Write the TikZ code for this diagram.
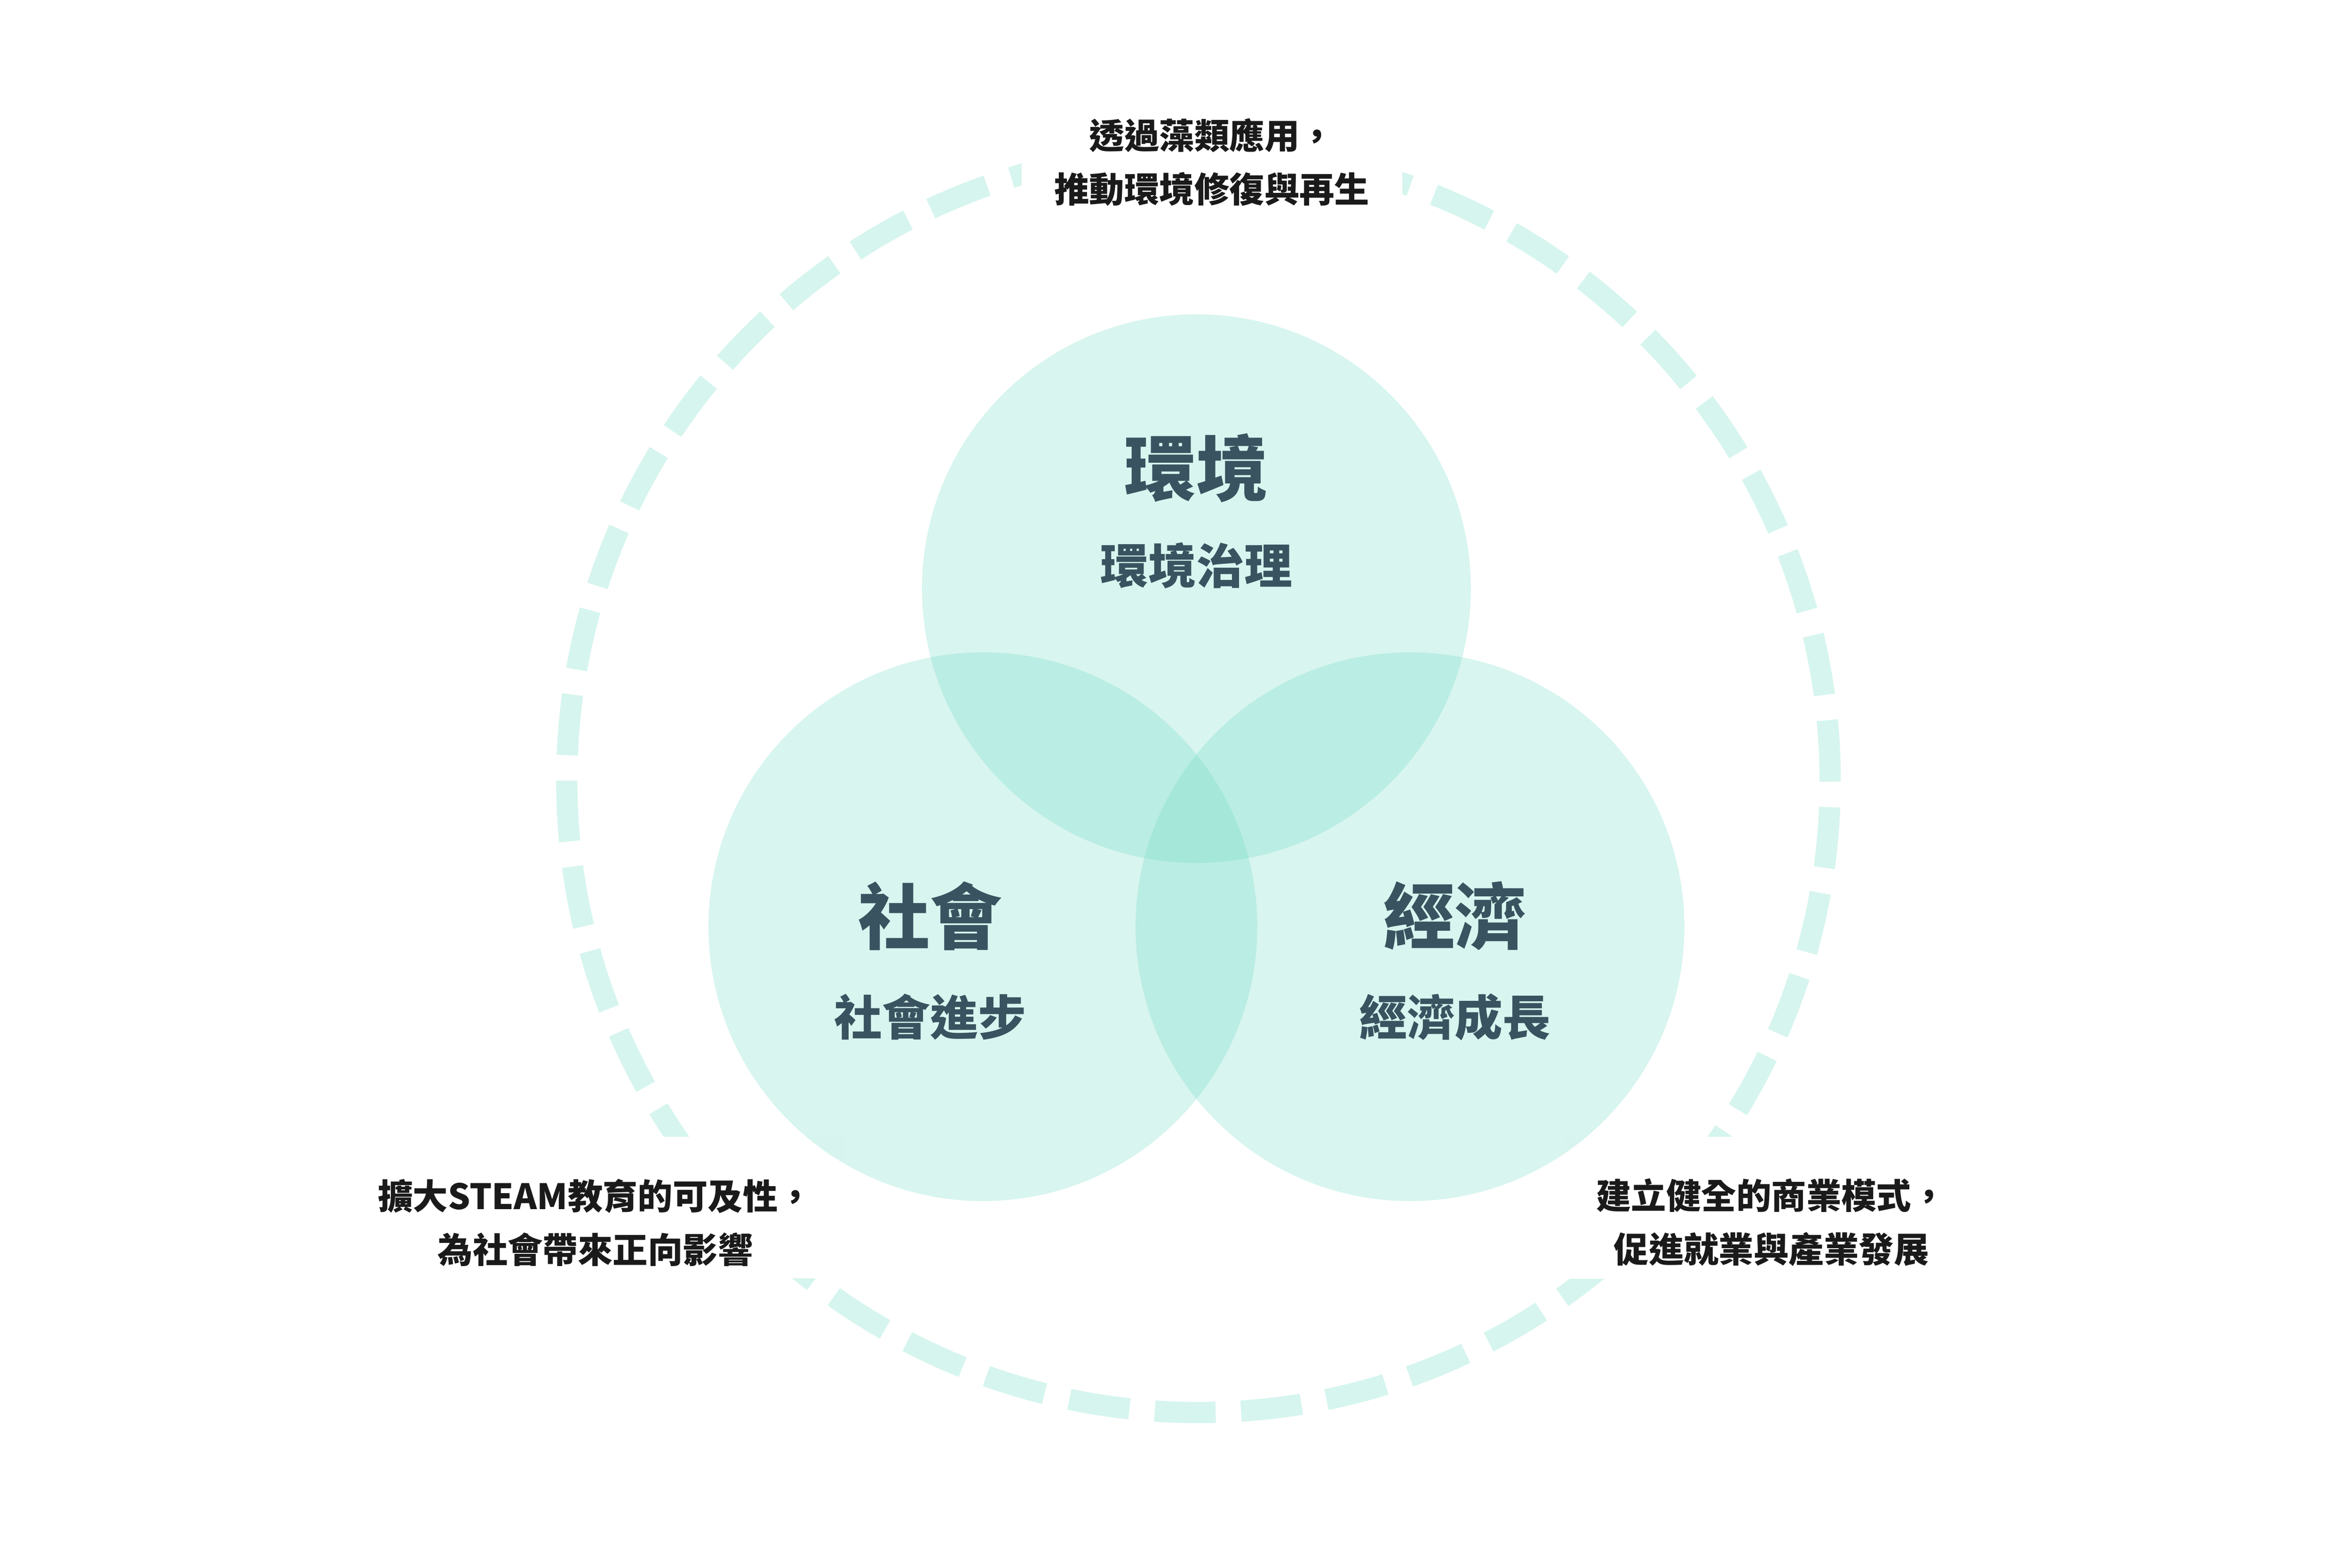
\documentclass[tikz,border=0pt]{standalone}
\usepackage{fontspec}
\setmainfont{Noto Sans CJK TC}
\usetikzlibrary{positioning}
\definecolor{mint}{RGB}{103,216,192}
\definecolor{ringmint}{RGB}{214,245,238}
\definecolor{slate}{RGB}{58,83,96}
\definecolor{ink}{RGB}{26,26,26}
\newcommand{\topgap}{\rule{0pt}{21pt}}

\begin{document}
\begin{tikzpicture}[node distance=4.14cm,
	bubble/.style={circle, fill=mint, fill opacity=0.26, minimum size=6.72cm, inner sep=0pt},
	ring/.style={circle, draw=ringmint, line width=7.4pt, dash pattern=on 0.745cm off 0.3115cm, minimum size=15.47cm, inner sep=0pt},
	head/.style={text=slate, font=\bfseries\fontsize{25}{30}\selectfont},
	subhead/.style={text=slate, font=\bfseries\fontsize{16.7}{20}\selectfont},
	note/.style={fill=white, text=ink, align=center, inner xsep=0.4cm, inner ysep=0.15cm, font=\bfseries\fontsize{12.2}{18.7}\selectfont}]
			\useasboundingbox (0,0) rectangle (28.8,19.2);

			\node[ring] (ring) at (14.675,9.635) {};

			\node[note] (envn) at (14.84,17.215) {透過藻類應用，\\推動環境修復與再生};
			\node[note] (socn) at (7.29,4.41) {\topgap 擴大STEAM教育的可及性，\\為社會帶來正向影響};
			\node[note] (econ) at (21.69,4.41) {\topgap 建立健全的商業模式，\\促進就業與產業發展};

			\node[bubble] (env) at (14.65,11.99) {};
			\node[bubble] (soc)[below of = env, xshift=-2.615cm] {};
			\node[bubble] (eco)[below of = env, xshift=2.615cm] {};

			\node[head] (envh)[above of = env, yshift=-2.66cm] {環境};
			\node[subhead] (envs)[above of = env, yshift=-3.855cm] {環境治理};
			\node[head] (soch)[above of = soc, xshift=-0.645cm, yshift=-4.01cm] {社會};
			\node[subhead] (socs)[below of = soc, xshift=-0.645cm, yshift=3.035cm] {社會進步};
			\node[head] (ecoh)[above of = eco, xshift=0.55cm, yshift=-4.01cm] {經濟};
			\node[subhead] (ecos)[below of = eco, xshift=0.55cm, yshift=3.035cm] {經濟成長};
		\end{tikzpicture}
\end{document}
